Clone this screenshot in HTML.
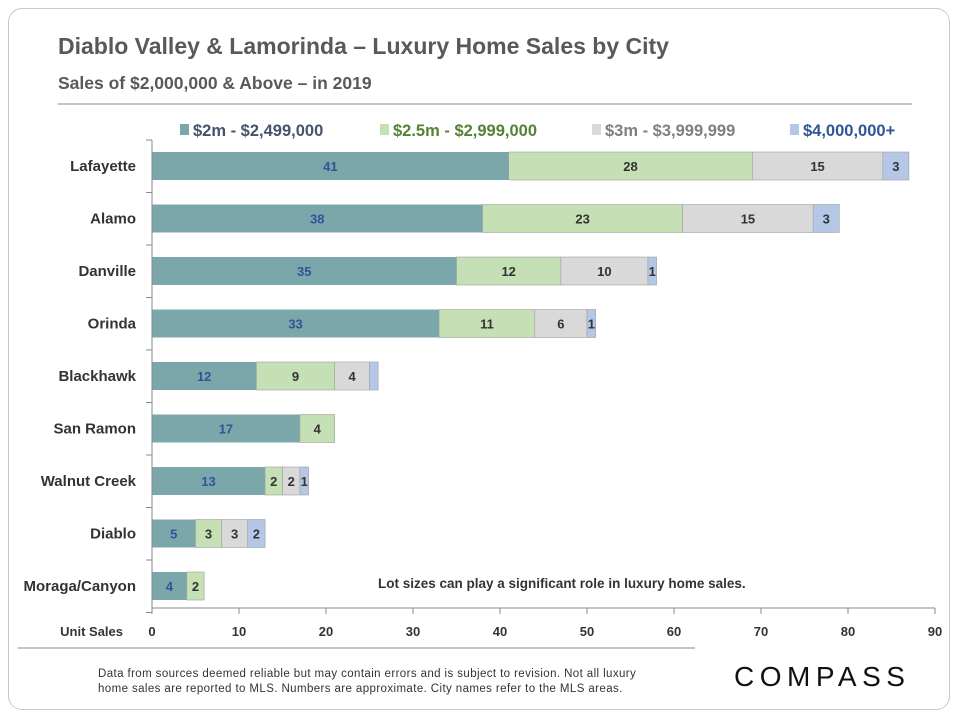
<!DOCTYPE html>
<html><head><meta charset="utf-8"><style>
body{margin:0;width:960px;height:720px;background:#fff;font-family:"Liberation Sans",sans-serif;overflow:hidden}
.card{position:absolute;left:8px;top:8px;width:942px;height:702px;border:1px solid #c8c8c8;border-radius:14px;box-sizing:border-box}
</style></head><body>
<div class="card"></div>
<svg width="960" height="720" style="position:absolute;left:0;top:0" id="chart">
<text x="58" y="54" font-size="23" font-weight="bold" fill="#595959">Diablo Valley &amp; Lamorinda – Luxury Home Sales by City</text>
<text x="58" y="89" font-size="17.5" font-weight="bold" fill="#595959">Sales of $2,000,000 &amp; Above – in 2019</text>
<line x1="58" y1="104" x2="912" y2="104" stroke="#888"/>
<g id="legend"></g>
<g id="bars"></g>
<g id="axes"></g>
<text x="378" y="588" font-size="13.5" font-weight="bold" fill="#333">Lot sizes can play a significant role in luxury home sales.</text>
<line x1="18" y1="648" x2="695" y2="648" stroke="#888"/>
<text x="98" y="677" font-size="11.5" fill="#333" letter-spacing="0.4">Data from  sources deemed reliable but may contain errors and is subject to revision. Not all luxury</text>
<text x="98" y="692" font-size="11.5" fill="#333" letter-spacing="0.4">home sales are reported to MLS. Numbers are approximate. City names refer to the MLS areas.</text>
<text x="734" y="686" font-size="28" fill="#111" letter-spacing="5.5">COMPASS</text>
</svg>
<script>
const cities=["Lafayette","Alamo","Danville","Orinda","Blackhawk","San Ramon","Walnut Creek","Diablo","Moraga/Canyon"];
const s1=[41,38,35,33,12,17,13,5,4];
const s2=[28,23,12,11,9,4,2,3,2];
const s3=[15,15,10,6,4,0,2,3,0];
const s4=[3,3,1,1,1,0,1,2,0];
const show4=[true,true,true,true,false,false,true,true,false];
const ticks=[0,10,20,30,40,50,60,70,80,90];
const seriesNames=["$2m - $2,499,000","$2.5m - $2,999,000","$3m - $3,999,999","$4,000,000+"];
const NS="http://www.w3.org/2000/svg";
const x=v=>152+v*(935-152)/90;
const y=i=>166+i*52.5;
const fills=["#7ba7ab","#c5e0b4","#d9d9d9","#b4c7e7"];
const lblCol=["#2f5597","#333","#333","#333"];
const legCol=["#44546a","#548235","#7f7f7f","#2f5597"];
function mk(t,a,p){const e=document.createElementNS(NS,t);for(const k in a)e.setAttribute(k,a[k]);p.appendChild(e);return e;}
const bars=document.getElementById('bars'),axes=document.getElementById('axes'),leg=document.getElementById('legend');
const series=[s1,s2,s3,s4];
cities.forEach((c,i)=>{
 let acc=0;
 series.forEach((s,k)=>{
  const v=s[i]; if(!v){return;}
  const r=mk('rect',{x:x(acc),y:y(i)-14,width:x(acc+v)-x(acc),height:28,fill:fills[k],stroke:k==0?"none":"#a0a0a0","stroke-width":0.6},bars);
  
  
  if(k<3||show4[i]){
   const t=mk('text',{x:(x(acc)+x(acc+v))/2,y:y(i)+5,"font-size":13,"font-weight":"bold",fill:lblCol[k],"text-anchor":"middle"},bars);
   t.textContent=v;
   
   
  }
  acc+=v;
 });
 const t=mk('text',{x:136,y:y(i)+5,"font-size":15,"font-weight":"bold",fill:"#333","text-anchor":"end"},axes);
 t.textContent=c;
 
 
});
const ya=mk('line',{x1:152,y1:140,x2:152,y2:608,stroke:"#888"},axes);


for(let i=0;i<=cities.length;i++){mk('line',{x1:146,y1:140+i*52.5,x2:152,y2:140+i*52.5,stroke:"#888"},axes);}
const xa=mk('line',{x1:152,y1:608,x2:935,y2:608,stroke:"#888"},axes);


ticks.forEach(v=>{
 mk('line',{x1:x(v),y1:608,x2:x(v),y2:614,stroke:"#888"},axes);
 const t=mk('text',{x:x(v),y:636,"font-size":13,"font-weight":"bold",fill:"#333","text-anchor":"middle"},axes);
 t.textContent=v;
 
 
});
const xt=mk('text',{x:123,y:636,"font-size":13,"font-weight":"bold",fill:"#333","text-anchor":"end"},axes);
xt.textContent="Unit Sales";


const lx=[180,380,592,790];
seriesNames.forEach((n,k)=>{
 const r=mk('rect',{x:lx[k],y:124,width:9,height:11,fill:fills[k]},leg);
 
 
 const t=mk('text',{x:lx[k]+13,y:136,"font-size":16.5,"font-weight":"bold",fill:legCol[k]},leg);
 t.textContent=n;
 
 
});
</script>
</body></html>
